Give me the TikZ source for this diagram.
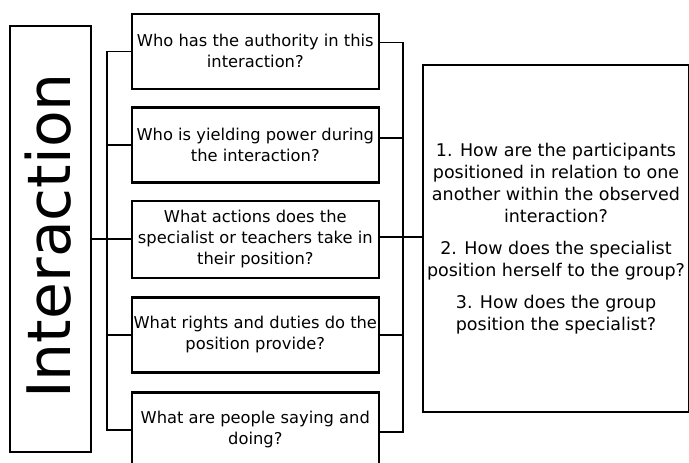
\documentclass[tikz,border=0pt]{standalone}
\usepackage{fontspec}
\setmainfont{DejaVu Sans}
\usetikzlibrary{positioning}
\tikzset{
  qbox/.style={draw,line width=2.6pt,minimum width=247pt,minimum height=75pt,inner sep=0pt,align=center,font=\fontsize{16.3}{21}\selectfont},
  mbox/.style={draw,line width=2.6pt,inner sep=0pt},
  conn/.style={line width=1.6pt},
  every picture/.style={x=1pt,y=-1pt}
}

\begin{document}
\begin{tikzpicture}
  \useasboundingbox (0,0) rectangle (689,463);
  \node[mbox,minimum width=81pt,minimum height=426pt] (inter) at (50.5,239) {};
  \node[rotate=90,inner sep=0pt,font=\fontsize{60}{60}\selectfont] (intertxt) at (48,236) {Interaction};
  \node[qbox] (q1) at (255.3,51.3) {Who has the authority in this\\interaction?};
  \node[qbox] (q2) at (255.3,145.2) {Who is yielding power during\\the interaction?};
  \node[qbox,minimum height=77pt] (q3) at (255.3,239.5) {What actions does the\\specialist or teachers take in\\their position?};
  \node[qbox] (q4) at (255.3,335) {What rights and duties do the\\position provide?};
  \node[qbox] (q5) at (255.3,430) {What are people saying and\\doing?};
  \node[mbox,minimum width=266pt,minimum height=347pt,align=center,font=\fontsize{17.5}{22}\selectfont] (ans) at (556,238.5) {1. How are the participants\\positioned in relation to one\\another within the observed\\interaction?\\[10pt]2. How does the specialist\\position herself to the group?\\[10pt]3. How does the group\\position the specialist?};
  \coordinate (lbar) at (107,239); \coordinate (rbar) at (403,237);
  % left bracket
  \draw[conn] (inter.east) -- (inter.east -| q3.west);
  \foreach \q in {q1,q2,q4,q5} \draw[conn] (\q.west) -| (lbar);
  % right bracket
  \draw[conn] (q1.east) ++(0,-9) -| (rbar); \draw[conn] (q2.east) ++(0,-7) -| (rbar);
  \draw[conn] (q3.east) ++(0,-2.5) -- (rbar) -- (rbar -| ans.west);
  \draw[conn] (q4.east) -| (rbar); \draw[conn] (q5.east) ++(0,2) -| (rbar);
\end{tikzpicture}
\end{document}
